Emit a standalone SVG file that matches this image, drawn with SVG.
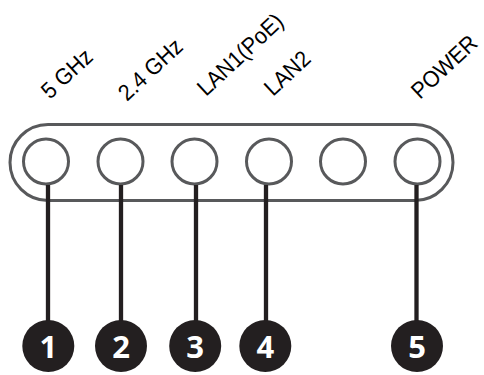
<svg xmlns="http://www.w3.org/2000/svg" width="484" height="375" viewBox="0 0 484 375">
<style>
.lbl{font-family:"Liberation Sans",Arial,sans-serif;font-size:23px;fill:#000}
.port{fill:none;stroke:#58595b;stroke-width:3}
.lead{stroke:#231f20;stroke-width:4.3;fill:none}
.badge{fill:#231f20}
.num{font-family:"Open Sans","Liberation Sans",sans-serif;font-weight:bold;font-size:31px;fill:#fff;text-anchor:middle}
</style>
<rect width="484" height="375" fill="#fff"/>
<g id="labels">
<text class="lbl" transform="translate(50,100) rotate(-43) scale(0.93,1)">5 GHz</text>
<text class="lbl" transform="translate(127,102) rotate(-43) scale(0.93,1)">2.4 GHz</text>
<text class="lbl" transform="translate(206,97) rotate(-43) scale(0.93,1)">LAN1(PoE)</text>
<text class="lbl" transform="translate(273,97) rotate(-43) scale(0.93,1)">LAN2</text>
<text class="lbl" transform="translate(420,100) rotate(-43) scale(0.93,1)">POWER</text>
</g>
<g id="panel">
<rect x="10" y="124.5" width="443" height="76" rx="38" ry="38" class="port"/>
</g>
<g id="ports">
<circle class="port" cx="46" cy="161.5" r="22.5"/>
<circle class="port" cx="120.5" cy="161.5" r="22.5"/>
<circle class="port" cx="194.5" cy="161.5" r="22.5"/>
<circle class="port" cx="269" cy="161.5" r="22.5"/>
<circle class="port" cx="343" cy="161.5" r="22.5"/>
<circle class="port" cx="417.5" cy="161.5" r="22.5"/>
</g>
<g id="connectors">
<line class="lead" x1="48" y1="185" x2="48" y2="322"/>
<line class="lead" x1="121" y1="185" x2="121" y2="322"/>
<line class="lead" x1="196" y1="185" x2="196" y2="322"/>
<line class="lead" x1="266" y1="185" x2="266" y2="322"/>
<line class="lead" x1="416.5" y1="185" x2="416.5" y2="322"/>
</g>
<g id="badge1"><circle class="badge" cx="48.3" cy="346" r="26"/><text class="num" x="48.3" y="357.5">1</text></g>
<g id="badge2"><circle class="badge" cx="121" cy="346" r="26"/><text class="num" x="121" y="357.5">2</text></g>
<g id="badge3"><circle class="badge" cx="195.2" cy="346" r="26"/><text class="num" x="195.2" y="357.5">3</text></g>
<g id="badge4"><circle class="badge" cx="265.3" cy="346" r="26"/><text class="num" x="265.3" y="357.5">4</text></g>
<g id="badge5"><circle class="badge" cx="417" cy="346" r="26"/><text class="num" x="417" y="357.5">5</text></g>
</svg>
